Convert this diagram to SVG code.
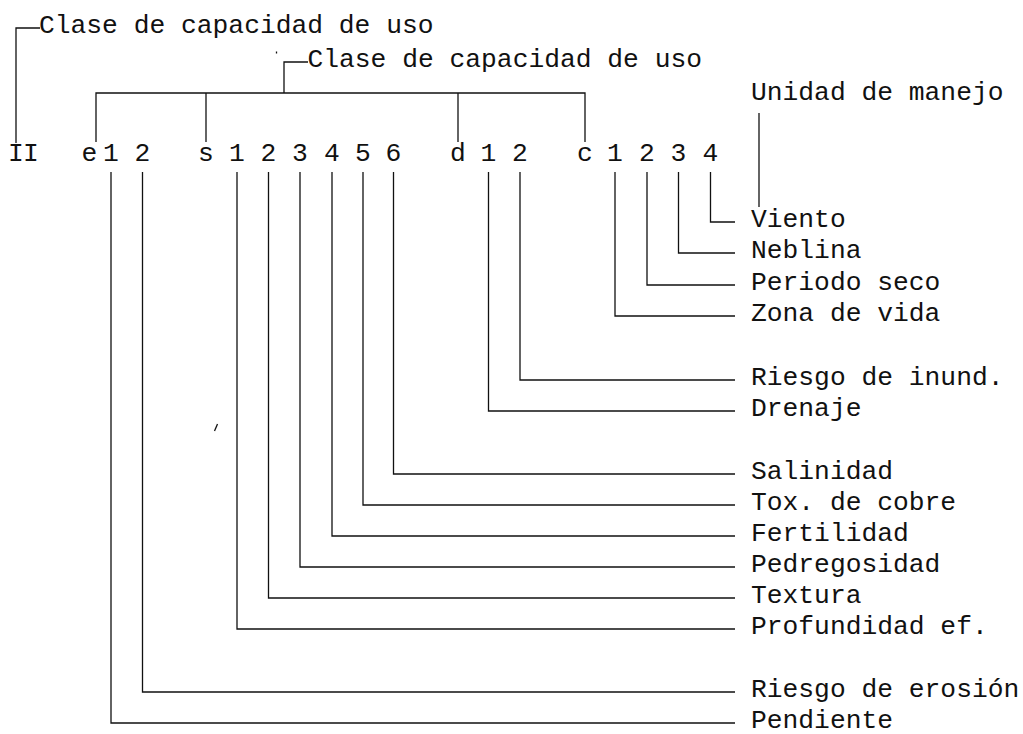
<svg xmlns="http://www.w3.org/2000/svg" width="1023" height="734" viewBox="0 0 1023 734">
<style>
  .t { font-family: "Liberation Mono", "DejaVu Sans Mono", monospace; font-size: 26.3px; fill: #111; }
  .s { text-anchor: middle; }
  .c { fill: none; stroke: #111; stroke-width: 1.3; }
</style>
<rect width="1023" height="734" fill="#fff"/>
<g id="connectors" class="c">
  <path d="M16 143 V28 H40"/>
  <path d="M284 93 V62 H308"/>
  <path d="M96 142 V93 H585 V142"/>
  <path d="M206 93 V142"/>
  <path d="M458 93 V142"/>
  <path d="M759 113 V207"/>
  <path d="M710.5 172 V222 H735"/>
  <path d="M678.5 172 V253 H735"/>
  <path d="M647 172 V285 H735"/>
  <path d="M615 172 V316 H735"/>
  <path d="M520 172 V380 H735"/>
  <path d="M488.5 172 V411 H735"/>
  <path d="M393.5 172 V474 H735"/>
  <path d="M363 172 V505 H735"/>
  <path d="M332 172 V536 H735"/>
  <path d="M300 172 V567 H735"/>
  <path d="M268.5 172 V598 H735"/>
  <path d="M237 172 V629 H735"/>
  <path d="M142.5 172 V692 H735"/>
  <path d="M111 172 V723 H735"/>
</g>
<g id="marks" fill="none" stroke="#111" stroke-width="1.3">
  <path d="M276.5 51.5 V53.5"/>
  <path d="M214.5 431 L217.5 424"/>
</g>
<g id="label-clase-1"><text class="t" x="39" y="32.5">Clase de capacidad de uso</text></g>
<g id="label-clase-2"><text class="t" x="307.5" y="66.5">Clase de capacidad de uso</text></g>
<g id="label-unidad"><text class="t" x="751" y="100">Unidad de manejo</text></g>
<g id="code-row">
  <g id="sym-II"><text class="t s" x="16" y="161">I</text><text class="t s" x="31" y="161">I</text></g>
  <g id="sym-e"><text class="t s" x="89.5" y="161">e</text></g>
  <g id="sym-e1"><text class="t s" x="111" y="161">1</text></g>
  <g id="sym-e2"><text class="t s" x="142.5" y="161">2</text></g>
  <g id="sym-s"><text class="t s" x="206" y="161">s</text></g>
  <g id="sym-s1"><text class="t s" x="237" y="161">1</text></g>
  <g id="sym-s2"><text class="t s" x="268.5" y="161">2</text></g>
  <g id="sym-s3"><text class="t s" x="300" y="161">3</text></g>
  <g id="sym-s4"><text class="t s" x="332" y="161">4</text></g>
  <g id="sym-s5"><text class="t s" x="363" y="161">5</text></g>
  <g id="sym-s6"><text class="t s" x="393.5" y="161">6</text></g>
  <g id="sym-d"><text class="t s" x="458" y="161">d</text></g>
  <g id="sym-d1"><text class="t s" x="488.5" y="161">1</text></g>
  <g id="sym-d2"><text class="t s" x="520" y="161">2</text></g>
  <g id="sym-c"><text class="t s" x="585" y="161">c</text></g>
  <g id="sym-c1"><text class="t s" x="615" y="161">1</text></g>
  <g id="sym-c2"><text class="t s" x="647" y="161">2</text></g>
  <g id="sym-c3"><text class="t s" x="678.5" y="161">3</text></g>
  <g id="sym-c4"><text class="t s" x="710.5" y="161">4</text></g>
</g>
<g id="label-viento"><text class="t" x="751" y="226.5">Viento</text></g>
<g id="label-neblina"><text class="t" x="751" y="257.5">Neblina</text></g>
<g id="label-periodo"><text class="t" x="751" y="289.5">Periodo seco</text></g>
<g id="label-zona"><text class="t" x="751" y="320.5">Zona de vida</text></g>
<g id="label-inund"><text class="t" x="751" y="384.5">Riesgo de inund.</text></g>
<g id="label-drenaje"><text class="t" x="751" y="415.5">Drenaje</text></g>
<g id="label-salinidad"><text class="t" x="751" y="478.5">Salinidad</text></g>
<g id="label-tox"><text class="t" x="751" y="509.5">Tox. de cobre</text></g>
<g id="label-fertilidad"><text class="t" x="751" y="540.5">Fertilidad</text></g>
<g id="label-pedregosidad"><text class="t" x="751" y="571.5">Pedregosidad</text></g>
<g id="label-textura"><text class="t" x="751" y="602.5">Textura</text></g>
<g id="label-profundidad"><text class="t" x="751" y="633.5">Profundidad ef.</text></g>
<g id="label-erosion"><text class="t" x="751" y="696.5">Riesgo de erosión</text></g>
<g id="label-pendiente"><text class="t" x="751" y="727.5">Pendiente</text></g>
</svg>
